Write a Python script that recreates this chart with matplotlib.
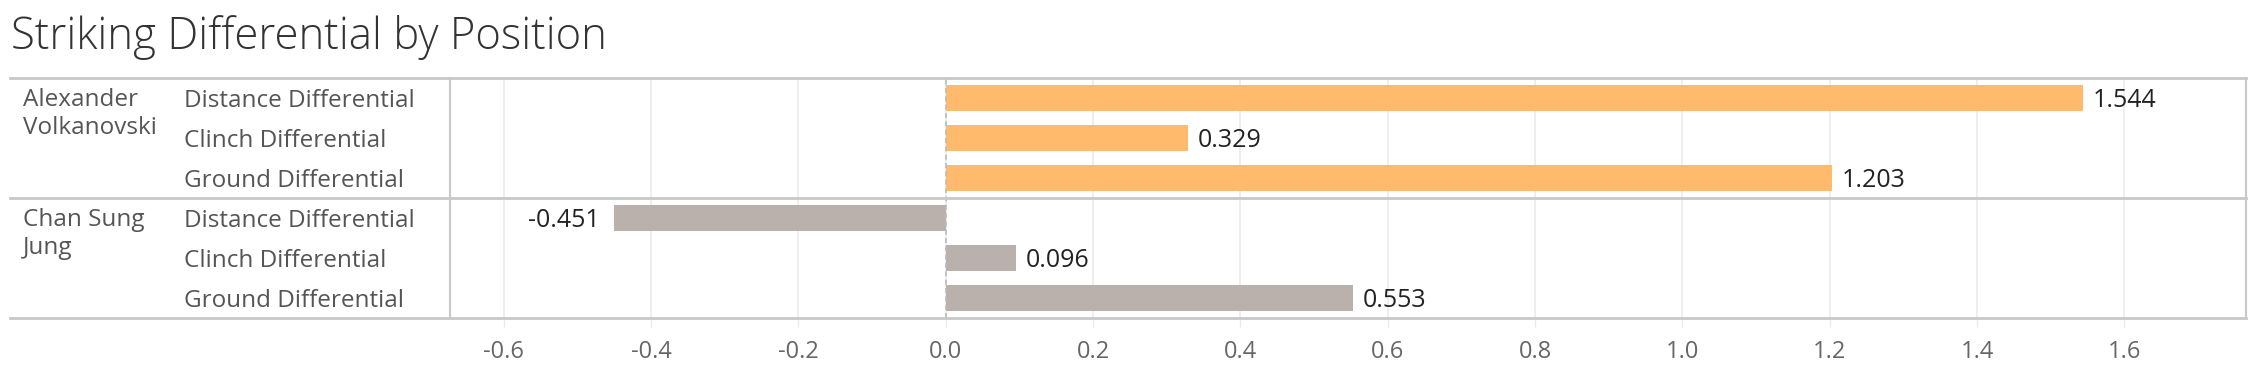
import matplotlib
matplotlib.use('Agg')
import matplotlib.pyplot as plt
from matplotlib.lines import Line2D
from matplotlib.transforms import blended_transform_factory

# --- data ---
fighters = ['Alexander\nVolkanovski', 'Chan Sung\nJung']
positions = ['Distance Differential', 'Clinch Differential', 'Ground Differential']
volkanovski = [1.544, 0.329, 1.203]
jung = [-0.451, 0.096, 0.553]
x_ticks = [-0.6, -0.4, -0.2, 0.0, 0.2, 0.4, 0.6, 0.8, 1.0, 1.2, 1.4, 1.6]

colors = ['#FFBA6C', '#BAB0AC']
border = '#C8C8C8'
grid = '#EBEBEB'

plt.rcParams['font.family'] = ['Open Sans', 'DejaVu Sans']

W, H = 2258, 388
fig = plt.figure(figsize=(W / 100, H / 100), dpi=100)

# plot pane in pixel coords
left, right, top, bottom = 450, 2246, 78, 318
ax = fig.add_axes([left / W, (H - bottom) / H, (right - left) / W, (bottom - top) / H])

n = len(positions)
for i, vals in enumerate([volkanovski, jung]):
    ys = [i * n + k for k in range(n)]
    ax.barh(ys, vals, height=0.65, color=colors[i], zorder=3)
    for y, v in zip(ys, vals):
        if v >= 0:
            ax.annotate(f'{v:.3f}', (v, y), xytext=(7, -1.5), textcoords='offset points',
                        ha='left', va='center', fontsize=18, color='#222222')
        else:
            ax.annotate(f'{v:.3f}', (v, y), xytext=(-10, -1.5), textcoords='offset points',
                        ha='right', va='center', fontsize=18, color='#222222')

ax.set_ylim(2 * n - 0.5, -0.5)
ax.set_xlim(-0.673, 1.765)
ax.set_xticks(x_ticks)
ax.set_xticklabels([f'{t:.1f}' for t in x_ticks])
ax.set_yticks([])
ax.tick_params(axis='x', length=6.5, width=1, color=grid, pad=9,
               labelsize=17, labelcolor='#666666')
ax.grid(axis='x', color=grid, linewidth=1.2, zorder=0)
ax.axvline(0, color='#BBBBBB', linestyle=(0, (3, 2)), linewidth=1.2, zorder=4)

for s in ['top', 'bottom']:
    ax.spines[s].set_visible(False)
ax.spines['left'].set_color(border)
ax.spines['left'].set_linewidth(1.5)
ax.spines['right'].set_color(border)
ax.spines['right'].set_linewidth(1.5)

# horizontal separators across headers and pane
trans = blended_transform_factory(fig.transFigure, ax.transData)
for yy in [-0.5, n - 0.5, 2 * n - 0.5]:
    fig.add_artist(Line2D([10 / W, right / W], [yy, yy], transform=trans,
                          color=border, linewidth=2))

# row headers
for i, name in enumerate(fighters):
    fig.text(23 / W, i * n - 0.25, name, transform=trans, ha='left', va='top',
             fontsize=17.5, color='#555555', linespacing=1.25)
    for k, p in enumerate(positions):
        fig.text(184 / W, i * n + k + 0.07, p, transform=trans, ha='left', va='center',
                 fontsize=17.5, color='#555555')

fig.text(11 / W, 1 - 15 / H, 'Striking Differential by Position', ha='left', va='top',
         fontsize=31.5, color='#333333', fontweight='light')

fig.savefig('out.png', dpi=100)
